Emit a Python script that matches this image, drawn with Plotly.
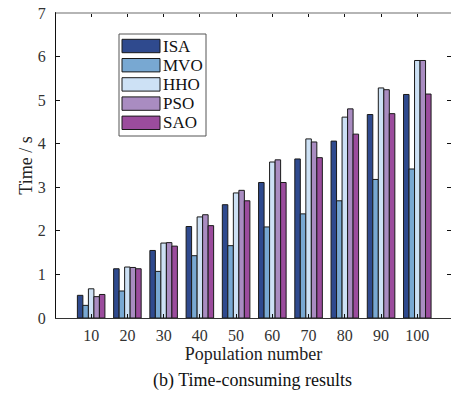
import plotly.graph_objects as go

categories = ["10", "20", "30", "40", "50", "60", "70", "80", "90", "100"]
series_names = ["ISA", "MVO", "HHO", "PSO", "SAO"]
isa = [0.52, 1.13, 1.55, 2.10, 2.60, 3.11, 3.65, 4.06, 4.67, 5.13]
mvo = [0.29, 0.62, 1.07, 1.43, 1.66, 2.09, 2.39, 2.69, 3.18, 3.42]
hho = [0.67, 1.17, 1.72, 2.32, 2.87, 3.58, 4.11, 4.61, 5.28, 5.91]
pso = [0.49, 1.16, 1.73, 2.37, 2.93, 3.63, 4.04, 4.80, 5.24, 5.91]
sao = [0.54, 1.13, 1.65, 2.12, 2.69, 3.11, 3.68, 4.22, 4.69, 5.14]
series_values = [isa, mvo, hho, pso, sao]
colors = ["#2F4A8E", "#78A8D2", "#CDE1F5", "#A98CC1", "#9B4C9D"]

W, H = 451, 398
L, R, T, B = 56, 0, 13, 80
pw, ph = W - L - R, H - T - B

def px(x):
    return (x - L) / pw

def py(y):
    return (H - B - y) / ph

FF = "Liberation Serif"

fig = go.Figure()
for name, vals, c in zip(series_names, series_values, colors):
    fig.add_trace(go.Bar(
        x=categories, y=vals, name=name, showlegend=False,
        marker=dict(color=c, line=dict(color="#1a1a1a", width=1)),
    ))

shapes = []
annotations = []
# manual legend
shapes.append(dict(type="rect", xref="paper", yref="paper",
                   x0=px(119), x1=px(206), y0=py(34), y1=py(136),
                   line=dict(color="#555555", width=1), fillcolor="white", layer="above"))
for i, (name, c) in enumerate(zip(series_names, colors)):
    y0 = 39.3 + i * 19.2
    shapes.append(dict(type="rect", xref="paper", yref="paper",
                       x0=px(122), x1=px(160), y0=py(y0), y1=py(y0 + 13.4),
                       line=dict(color="#1a1a1a", width=1), fillcolor=c, layer="above"))
    annotations.append(dict(text=name, xref="paper", yref="paper",
                            x=px(161), y=py(y0 + 6.9), xanchor="left", yanchor="middle",
                            showarrow=False, font=dict(family=FF, size=17, color="#111")))
# gray top frame line
shapes.append(dict(type="line", xref="paper", yref="paper", x0=0, x1=1, y0=1, y1=1,
                   line=dict(color="#b5b5b5", width=2), layer="above"))
# caption
annotations.append(dict(text="(b) Time-consuming results", xref="paper", yref="paper",
                        x=px(252), y=py(380), xanchor="center", yanchor="middle",
                        showarrow=False, font=dict(family=FF, size=18, color="#111")))

fig.update_layout(
    width=W, height=H,
    margin=dict(l=L, r=R, t=T, b=B, pad=0),
    paper_bgcolor="white", plot_bgcolor="white",
    barmode="group", bargap=0.24, bargroupgap=0.0,
    font=dict(family=FF, color="#222"),
    shapes=shapes, annotations=annotations,
    xaxis=dict(
        type="category", range=[-0.97, 9.93],
        showline=True, linecolor="#333", linewidth=1, mirror="ticks",
        ticks="inside", ticklen=4, tickcolor="#111",
        tickfont=dict(family=FF, size=16, color="#333"),
        ticklabelstandoff=3,
        showgrid=False, zeroline=False,
        title=dict(text="Population number", font=dict(family=FF, size=18, color="#222"), standoff=4),
    ),
    yaxis=dict(
        range=[0, 7], dtick=1,
        showline=True, linecolor="#111", linewidth=1, mirror="ticks",
        ticks="inside", ticklen=4, tickcolor="#111",
        tickfont=dict(family=FF, size=16, color="#333"),
        ticklabelstandoff=6,
        showgrid=False, zeroline=False,
        title=dict(text="Time / s", font=dict(family=FF, size=18, color="#222"), standoff=0),
    ),
)

fig.write_html("out.html")
